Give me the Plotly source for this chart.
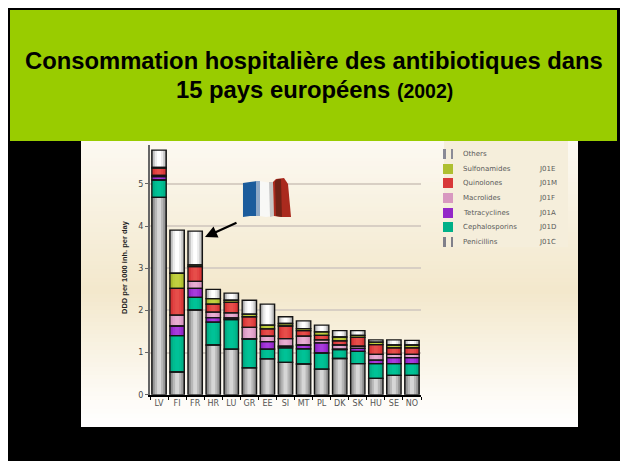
import plotly.graph_objects as go

W, H = 620, 461

countries = ["LV","FI","FR","HR","LU","GR","EE","SI","MT","PL","DK","SK","HU","SE","NO"]
penicillins    = [4.68,0.54,2.01,1.18,1.08,0.64,0.85,0.77,0.73,0.61,0.86,0.74,0.39,0.46,0.46]
cephalosporins = [0.41,0.86,0.30,0.54,0.70,0.68,0.23,0.34,0.36,0.38,0.21,0.29,0.35,0.28,0.28]
tetracyclines  = [0.08,0.23,0.21,0.11,0.04,0.01,0.18,0.04,0.09,0.24,0.01,0.07,0.08,0.14,0.14]
macrolides     = [0.03,0.26,0.17,0.13,0.12,0.27,0.13,0.18,0.21,0.07,0.10,0.05,0.14,0.08,0.08]
quinolones     = [0.17,0.63,0.35,0.19,0.25,0.25,0.17,0.30,0.13,0.11,0.10,0.21,0.23,0.15,0.15]
sulfonamides   = [0.02,0.36,0.04,0.13,0.05,0.06,0.09,0.06,0.05,0.08,0.09,0.05,0.06,0.07,0.07]
others         = [0.41,1.02,0.80,0.22,0.17,0.33,0.50,0.16,0.18,0.16,0.15,0.11,0.05,0.12,0.11]

series_names = ["Penicillins","Cephalosporins","Tetracyclines","Macrolides","Quinolones","Sulfonamides","Others"]
series_codes = ["J01C","J01D","J01A","J01F","J01M","J01E",""]
series_values = [penicillins,cephalosporins,tetracyclines,macrolides,quinolones,sulfonamides,others]
# colours from bar edge to bar centre
series_shades = [
    ["#6a6a6a","#989898","#b8b8b8","#d6d6d6"],
    ["#009a74","#00b088","#00bd90","#00c297"],
    ["#7a20a8","#9428c8","#a032d6","#a83cdc"],
    ["#c080aa","#d898c0","#e2a4cc","#e8aed2"],
    ["#b82c2c","#d83838","#e24444","#e64e4a"],
    ["#8f9c20","#aebf30","#bccc3a","#c2d040"],
    ["#8c8c8c","#c8c8c8","#ececec","#ffffff"],
]
layer_widths = [0.80, 0.66, 0.46, 0.22]

def px(x): return x / W
def py(y): return 1 - y / H

def rect(x0, y0, x1, y1, color, layer="below"):
    return dict(type="rect", xref="paper", yref="paper", x0=px(x0), x1=px(x1), y0=py(y0), y1=py(y1),
                fillcolor=color, line=dict(width=0), layer=layer)

def poly(points, color):
    d = "M" + " L".join(f"{px(a):.4f},{py(b):.4f}" for a, b in points) + " Z"
    return dict(type="path", xref="paper", yref="paper", path=d, fillcolor=color, line=dict(width=0), layer="above")

def lerp(c0, c1, t):
    return "rgb(" + ",".join(str(round(a + (b - a) * t)) for a, b in zip(c0, c1)) + ")"

shapes = [rect(8, 8, 620, 461, "#000000")]
# cream panel gradient: each band runs to the panel bottom so no seams show
stops = [(141,(252,249,241)),(215,(247,240,222)),(290,(243,232,204)),(350,(249,243,228)),(400,(254,252,248)),(427,(255,255,255))]
for (y0, c0), (y1, c1) in zip(stops, stops[1:]):
    n = max(1, (y1 - y0) // 4)
    for i in range(n):
        ya = y0 + (y1 - y0) * i / n
        shapes.append(rect(81, ya, 578, 427, lerp(c0, c1, i / n)))
shapes.append(rect(444, 141, 568, 247, "#f5eedb"))
shapes.append(rect(10, 10, 617, 141, "#99cc00"))

# flag
shapes += [
    poly([(243,183),(250,182),(257,181),(259,181),(259,216),(250,216),(243,217)], "#1b5c9c"),
    poly([(256,181),(260,181),(260,216),(256,216)], "#8fa9c6"),
    poly([(260,181),(265,182),(272,183),(273,216),(266,217),(260,216)], "#f8f8f6"),
    poly([(269,182),(273,182),(274,216),(270,217)], "#c6c6c6"),
    poly([(273,182),(276,179),(284,178),(288,184),(291,217),(282,217),(274,216)], "#aa2a1e"),
    poly([(275,181),(278,179),(281,179),(282,217),(276,216)], "#6f2216"),
]

# legend swatches
legend_rows = {"Others":154,"Sulfonamides":169,"Quinolones":183,"Macrolides":198,"Tetracyclines":213,"Cephalosporins":227,"Penicillins":242}
for name, shades in zip(series_names, series_shades):
    y = legend_rows[name]
    if name in ("Others","Penicillins"):
        edge = "#8a8a96" if name == "Others" else "#80808a"
        shapes.append(rect(443, y-5, 446, y+5, edge, "above"))
        shapes.append(rect(451, y-5, 453, y+5, edge, "above"))
    else:
        shapes.append(rect(443, y-5, 453, y+5, shades[1], "above"))

fig = go.Figure()
xdom = [px(150), px(421)]
ydom = [py(394.8), py(145)]

for name, vals, shades in zip(series_names, series_values, series_shades):
    idx = series_names.index(name)
    base = [sum(series_values[k][i] for k in range(idx)) for i in range(len(countries))]
    for w, c in zip(layer_widths, shades):
        fig.add_trace(go.Bar(x=countries, y=vals, base=base, width=w, name=name, showlegend=False,
                             marker=dict(color=c, line=dict(width=0))))
for name, vals in zip(series_names, series_values):
    idx = series_names.index(name)
    base = [sum(series_values[k][i] for k in range(idx)) for i in range(len(countries))]
    fig.add_trace(go.Bar(x=countries, y=vals, base=base, width=0.80, name=name, showlegend=False,
                         marker=dict(color="rgba(0,0,0,0)", line=dict(width=1.3, color="#141414"))))

annotations = [
    dict(x=px(314), y=py(61), text="<b>Consommation hospitalière des antibiotiques dans</b>", font=dict(size=23.8)),
    dict(x=px(314), y=py(90), text="<b>15 pays européens <span style='font-size:19.5px'>(2002)</span></b>", font=dict(size=23.8)),
]
for a in annotations:
    a.update(xref="paper", yref="paper", xanchor="center", yanchor="middle", showarrow=False)
    a["font"].update(family="Liberation Sans, Arial, sans-serif", color="#000000")

for name, code in zip(series_names, series_codes):
    y = legend_rows[name]
    annotations.append(dict(xref="paper", yref="paper", x=px(461), y=py(y), text=name, showarrow=False,
                            xanchor="left", yanchor="middle",
                            font=dict(family="DejaVu Sans", size=7, color="#5a5a5a")))
    if code:
        annotations.append(dict(xref="paper", yref="paper", x=px(537), y=py(y), text=code, showarrow=False,
                                xanchor="left", yanchor="middle",
                                font=dict(family="DejaVu Sans", size=7, color="#5a5a5a")))

annotations.append(dict(xref="paper", yref="paper", x=px(124), y=py(267), text="<b>DDD per 1000 inh. per day</b>",
                        textangle=-90, showarrow=False, xanchor="center", yanchor="middle",
                        font=dict(family="Liberation Sans, Arial, sans-serif", size=7.5, color="#222222")))
annotations.append(dict(xref="paper", yref="paper", x=px(205), y=py(237), ax=33, ay=-15,
                        axref="pixel", ayref="pixel", text="", showarrow=True, arrowhead=2, arrowsize=1.1,
                        arrowwidth=2.2, arrowcolor="#000000", standoff=0))

fig.update_layout(
    width=W, height=H, autosize=False, margin=dict(l=0, r=0, t=0, b=0),
    paper_bgcolor="#ffffff", plot_bgcolor="rgba(0,0,0,0)",
    barmode="overlay", showlegend=False, bargap=0.2,
    shapes=shapes, annotations=annotations,
    xaxis=dict(domain=xdom, type="category", categoryorder="array", categoryarray=countries, automargin=False,
               range=[-0.5, 14.5], showgrid=False, showline=True, linecolor="#000000", linewidth=1.5,
               ticks="outside", tickson="boundaries", ticklen=3, tickcolor="#000000", tickwidth=1,
               tickangle=0,
               tickfont=dict(family="DejaVu Sans", size=8, color="#555555"), fixedrange=True),
    yaxis=dict(domain=ydom, range=[0, (394.8-145)/42.2], tickmode="array", tickvals=[0,1,2,3,4,5], automargin=False,
               showgrid=True, gridcolor="#d8cfc4", gridwidth=1.5, zeroline=False,
               showline=True, linecolor="#666666", linewidth=2,
               ticks="outside", ticklen=3, tickcolor="#666666", tickwidth=1,
               tickfont=dict(family="DejaVu Sans", size=8, color="#444444"), fixedrange=True),
)
fig.write_html("out.html", config={"displayModeBar": False},
               post_script="document.body.style.margin='0';document.documentElement.style.overflow='hidden';")
